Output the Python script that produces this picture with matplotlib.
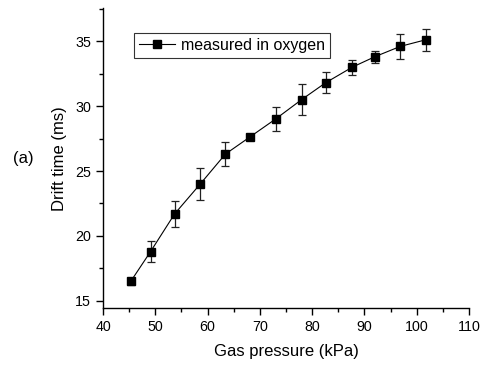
import matplotlib
matplotlib.use("Agg")
import matplotlib.pyplot as plt
from matplotlib.ticker import MultipleLocator
from matplotlib.lines import Line2D

pressure = [45.3, 49.1, 53.7, 58.6, 63.4, 68.2, 73.0, 78.0, 82.6, 87.7, 92.0, 96.9, 101.7]
drift_time = [16.5, 18.8, 21.7, 24.0, 26.3, 27.65, 29.0, 30.5, 31.8, 33.0, 33.8, 34.6, 35.1]
drift_err = [0.25, 0.8, 1.0, 1.22, 0.95, 0.2, 0.92, 1.2, 0.82, 0.58, 0.45, 0.95, 0.83]

plt.rcParams['font.family'] = ['Liberation Sans', 'DejaVu Sans']

fig = plt.figure(figsize=(4.87, 3.65), dpi=100)
ax = fig.add_axes([0.2115, 0.156, 0.7515, 0.821])

ax.errorbar(pressure, drift_time, yerr=drift_err, fmt='-s', color='black',
            ecolor='#222222', elinewidth=0.9, capsize=2.9, capthick=0.9,
            markersize=6, linewidth=0.8)

ax.set_xlim(40, 110)
ax.set_ylim(14.45, 37.52)
ax.xaxis.set_major_locator(MultipleLocator(10))
ax.xaxis.set_minor_locator(MultipleLocator(5))
ax.yaxis.set_major_locator(MultipleLocator(5))
ax.yaxis.set_minor_locator(MultipleLocator(2.5))

for s in ['top', 'right']:
    ax.spines[s].set_visible(False)
for s in ['left', 'bottom']:
    ax.spines[s].set_linewidth(1.0)

ax.tick_params(which='major', direction='out', length=5, width=1.0, labelsize=10.3)
ax.tick_params(which='minor', direction='out', length=3, width=1.0)

ax.set_xlabel('Gas pressure (kPa)', fontsize=12, labelpad=7)
ax.set_ylabel('Drift time (ms)', fontsize=12, labelpad=6)

fig.text(0.026, 0.567, '(a)', fontsize=12, va='center', ha='left')

handle = Line2D([], [], color='black', marker='s', markersize=6, linewidth=0.8)
leg = ax.legend([handle], ['measured in oxygen'], loc='upper left',
                bbox_to_anchor=(0.275, 0.9096), bbox_transform=fig.transFigure,
                frameon=True, fancybox=False, shadow=False, fontsize=11.5,
                handlelength=2.3, borderpad=0.3, handletextpad=0.35, borderaxespad=0)
leg.get_frame().set_edgecolor('black')
leg.get_frame().set_linewidth(0.8)

fig.savefig('out.png', dpi=100)
